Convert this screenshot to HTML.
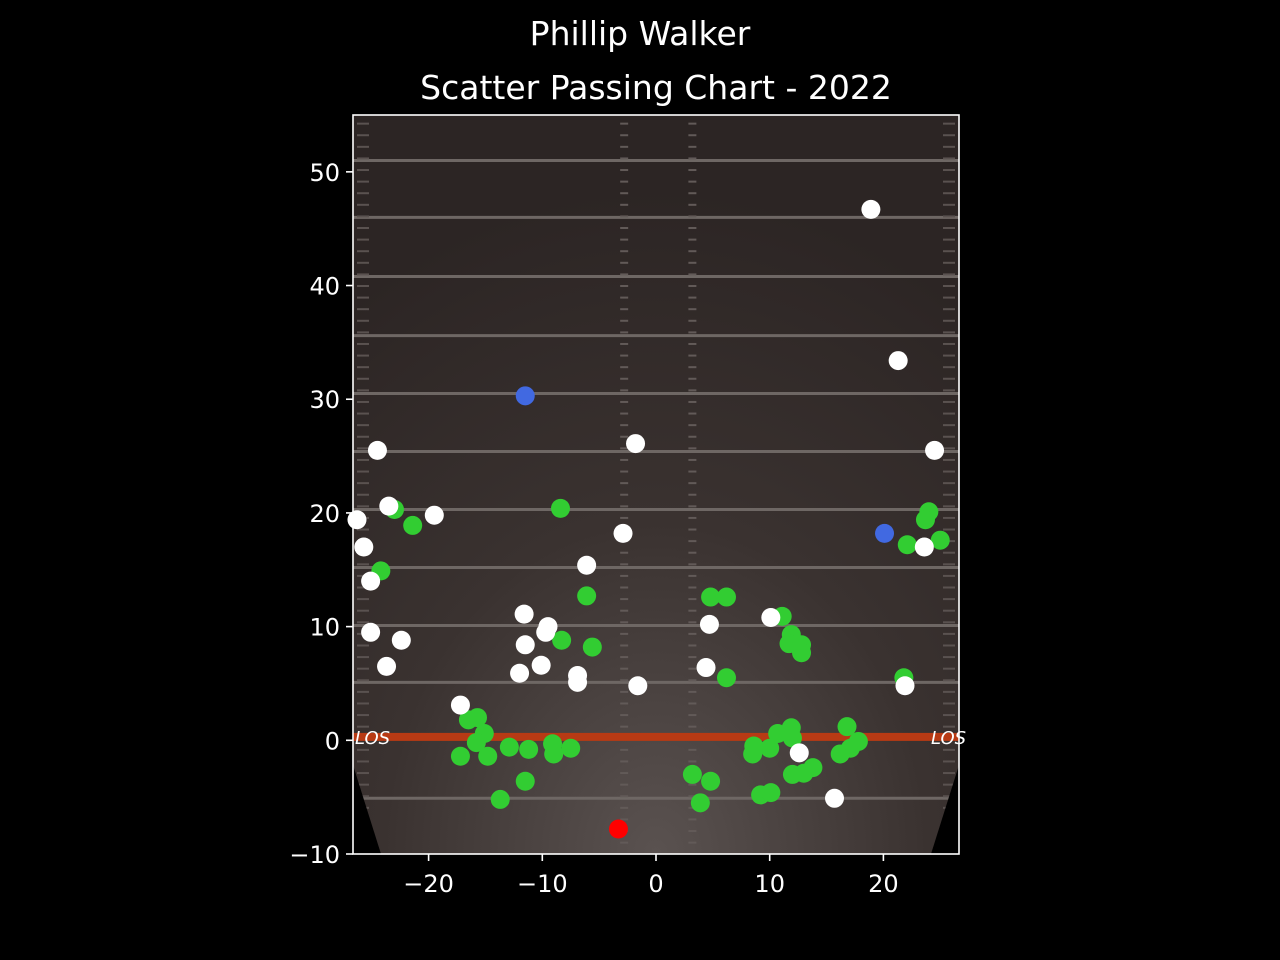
<!DOCTYPE html>
<html><head><meta charset="utf-8"><style>
body{margin:0;background:#000;width:1280px;height:960px;overflow:hidden}
svg{display:block}
text{font-family:"DejaVu Sans","Liberation Sans",sans-serif;fill:#fff}
</style></head><body>
<svg id="chart" width="1280" height="960">
<defs>
<radialGradient id="fieldGrad" cx="0.5" cy="1" r="0.9">
<stop offset="0" stop-color="#5a5250"/><stop offset="0.5" stop-color="#3a3230"/><stop offset="1" stop-color="#2c2524"/>
</radialGradient>
</defs>
<text x="640" y="45" font-size="33" text-anchor="middle">Phillip Walker</text>
<text x="656" y="99" font-size="33" text-anchor="middle">Scatter Passing Chart - 2022</text>
<g id="field"></g>
<g id="marks"></g>
<g id="axes"></g>
</svg>
<script>
const whiteX=[18.9,21.3,-1.8,-24.5,24.5,-23.5,-19.5,-26.3,-2.9,-25.7,23.6,-6.1,-25.1,-11.6,-9.5,-9.7,4.7,10.1,-25.1,-22.4,-11.5,-10.1,-23.7,4.4,-12.0,-6.9,-6.9,-1.6,21.9,-17.2,12.6,15.7];
const whiteY=[46.7,33.4,26.1,25.5,25.5,20.6,19.8,19.4,18.2,17.0,17.0,15.4,14.0,11.1,10.0,9.5,10.2,10.8,9.5,8.8,8.4,6.6,6.5,6.4,5.9,5.7,5.1,4.8,4.8,3.1,-1.1,-5.1];
const greenX=[-8.4,-23.0,-21.4,-24.2,24.0,23.7,22.1,25.0,-6.1,4.8,6.2,11.1,11.9,11.7,12.8,12.8,-8.3,-5.6,6.2,21.8,-16.5,-15.7,-15.1,-15.8,-17.2,-14.8,-12.9,-11.2,-9.1,-9.0,-7.5,-11.5,-13.7,3.2,4.8,3.9,8.6,8.5,10.0,10.7,11.9,12.0,9.2,10.1,12.0,13.0,13.8,16.8,17.8,17.1,16.2];
const greenY=[20.4,20.3,18.9,14.9,20.1,19.4,17.2,17.6,12.7,12.6,12.6,10.9,9.3,8.5,8.4,7.7,8.8,8.2,5.5,5.5,1.8,2.0,0.6,-0.2,-1.4,-1.4,-0.6,-0.8,-0.3,-1.2,-0.7,-3.6,-5.2,-3.0,-3.6,-5.5,-0.5,-1.2,-0.7,0.6,1.1,0.2,-4.8,-4.6,-3.0,-2.9,-2.4,1.2,-0.1,-0.7,-1.2];
const blueX=[-11.5,20.1];
const blueY=[30.3,18.2];
const redX=[-3.3];
const redY=[-7.8];
const xTicks=[-20,-10,0,10,20];
const yTicks=[-10,0,10,20,30,40,50];
const yardLines=[-5.1,5.1,10.1,15.2,20.3,25.4,30.5,35.6,40.8,46.0,51.0];

const L=353,R=959,T=115,B=854,XMIN=-26.65,XMAX=26.65,YMIN=-10,YMAX=55;
const sx=v=>L+(v-XMIN)/(XMAX-XMIN)*(R-L);
const sy=v=>B-(v-YMIN)/(YMAX-YMIN)*(B-T);
const NS="http://www.w3.org/2000/svg";
function mk(tag,attrs,parent){const e=document.createElementNS(NS,tag);for(const k in attrs)e.setAttribute(k,attrs[k]);parent.appendChild(e);return e;}
const field=document.getElementById('field'),marks=document.getElementById('marks'),axes=document.getElementById('axes');
mk('rect',{x:L,y:T,width:R-L,height:B-T,fill:'url(#fieldGrad)'},field);
yardLines.forEach(v=>{const l=mk('line',{x1:L,x2:R,y1:sy(v),y2:sy(v),stroke:'#6e6764','stroke-width':3},field);

});
[-2.8,3.2].forEach(hx=>{for(let v=-9;v<55;v+=1.02){mk('line',{x1:sx(hx)-4,x2:sx(hx)+4,y1:sy(v),y2:sy(v),stroke:'#625a58','stroke-width':2},field);}});
[L+10,R-10].forEach(hx=>{for(let v=-9;v<55;v+=1.02){mk('line',{x1:hx-6,x2:hx+6,y1:sy(v),y2:sy(v),stroke:'#5a5250','stroke-width':2},field);}});
const los=mk('rect',{x:L,y:sy(0.3)-4,width:R-L,height:8,fill:'#b83a14'},field);


mk('polygon',{points:`${L},765 ${L+28},${B} ${L},${B}`,fill:'#000'},field);
mk('polygon',{points:`${R},765 ${R-28},${B} ${R},${B}`,fill:'#000'},field);
mk('text',{x:L+2,y:sy(0.3)+7,'font-size':18,'font-style':'italic',fill:'#ddd'},field).textContent='LOS';
mk('text',{x:R-28,y:sy(0.3)+7,'font-size':18,'font-style':'italic',fill:'#ddd'},field).textContent='LOS';
function series(xs,ys,color,name){xs.forEach((x,i)=>{const c=mk('circle',{cx:sx(x),cy:sy(ys[i]),r:9.5,fill:color},marks);

});}
series(greenX,greenY,'#32cd32','completion-point');
series(whiteX,whiteY,'#ffffff','incompletion-point');
series(blueX,blueY,'#4169e1','touchdown-point');
series(redX,redY,'#ff0000','interception-point');
mk('rect',{x:L,y:T,width:R-L,height:B-T,fill:'none',stroke:'#fff','stroke-width':1.6},axes);
xTicks.forEach(v=>{mk('line',{x1:sx(v),x2:sx(v),y1:B,y2:B+7,stroke:'#fff','stroke-width':1.6},axes);
const t=mk('text',{x:sx(v),y:B+38,'font-size':24,'text-anchor':'middle'},axes);t.textContent=(v<0?'\u2212'+(-v):v);

});
yTicks.forEach(v=>{mk('line',{x1:L-7,x2:L,y1:sy(v),y2:sy(v),stroke:'#fff','stroke-width':1.6},axes);
const t=mk('text',{x:L-13,y:sy(v)+9,'font-size':24,'text-anchor':'end'},axes);t.textContent=(v<0?'\u2212'+(-v):v);

});
</script>
</body></html>
